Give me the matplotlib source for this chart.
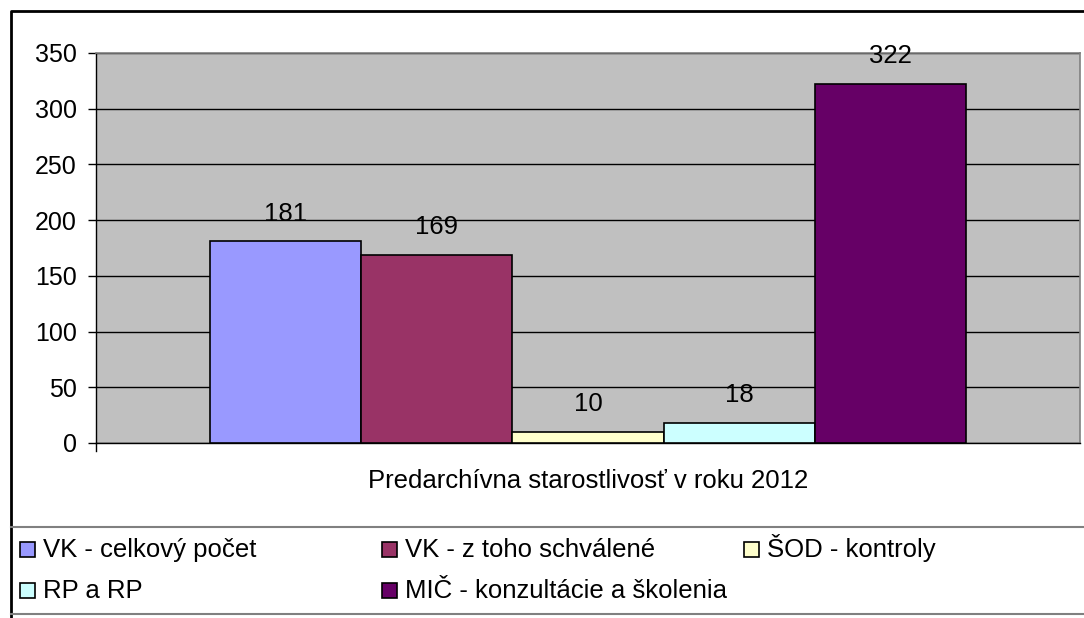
import numpy as np
import matplotlib
matplotlib.use('Agg')
import matplotlib.pyplot as plt
from matplotlib.patches import Rectangle
from matplotlib.lines import Line2D

series = ['VK - celkový počet', 'VK - z toho schválené', 'ŠOD - kontroly',
          'RP a RP', 'MIČ - konzultácie a školenia']
values = [181, 169, 10, 18, 322]
colors = ['#9999FF', '#993366', '#FFFFCC', '#CCFFFF', '#660066']
category = 'Predarchívna starostlivosť v roku 2012'
yticks = [0, 50, 100, 150, 200, 250, 300, 350]

plt.rcParams['font.family'] = ['Liberation Sans', 'DejaVu Sans']
FS = 18.5
W, H = 1084, 618
fig = plt.figure(figsize=(W / 100, H / 100), dpi=100)
fig.patch.set_facecolor('white')

def fx(px): return px / W
def fy(py): return 1 - py / H

ax = fig.add_axes([fx(96), fy(443), fx(1080) - fx(96), fy(53) - fy(443)])
ax.set_facecolor('#C0C0C0')
x = np.arange(len(values))
ax.bar(x, values, width=1.0, color=colors, edgecolor='black', linewidth=1.2, zorder=3)
gap = 0.755
ax.set_xlim(-0.5 - gap, len(values) - 0.5 + gap)
ax.set_ylim(0, 350)
ax.set_yticks(yticks)
ax.tick_params(axis='y', labelsize=18, length=6, width=1, pad=8, direction='out')
ax.set_xticks([])
ax.yaxis.grid(True, color='black', linewidth=1, zorder=0)
ax.set_axisbelow(True)
for s in ['top', 'right']:
    ax.spines[s].set_color('#808080')
    ax.spines[s].set_linewidth(1.2)
for s in ['left', 'bottom']:
    ax.spines[s].set_color('black')
    ax.spines[s].set_linewidth(1)

for xi, v in zip(x, values):
    ax.annotate(str(v), (xi, v), xytext=(0, 20), textcoords='offset points',
                ha='center', va='center', fontsize=FS, annotation_clip=False)

# small end tick mark on category axis
fig.add_artist(Line2D([fx(96), fx(96)], [fy(443), fy(451)], color='black', lw=1))

fig.text(fx(588), fy(481), category, ha='center', va='center', fontsize=FS)

# outer chart border
fig.add_artist(Line2D([fx(11), fx(11), 1], [0, fy(11), fy(11)], color='black', lw=2))
# legend box lines
fig.add_artist(Line2D([fx(11), 1], [fy(527), fy(527)], color='#808080', lw=1.5))
fig.add_artist(Line2D([fx(11), 1], [fy(614), fy(614)], color='#808080', lw=1.5))

col_x = [20, 382, 744]
row_y = [550, 591]
for i, (name, c) in enumerate(zip(series, colors)):
    r, col = divmod(i, 3)
    mx, my = col_x[col], row_y[r]
    fig.add_artist(Rectangle((fx(mx), fy(my + 7)), 15 / W, 15 / H,
                             facecolor=c, edgecolor='black', lw=1.2))
    fig.text(fx(mx + 23), fy(my + 7), name, ha='left', va='baseline', fontsize=FS)

fig.savefig('out.png', dpi=100)
